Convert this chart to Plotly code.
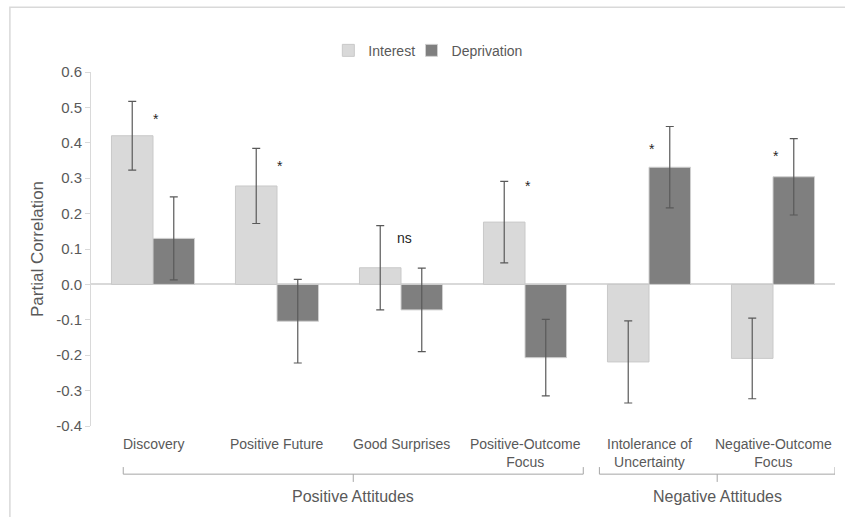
import plotly.graph_objects as go

categories = ["Discovery", "Positive Future", "Good Surprises", "Positive-Outcome<br>Focus",
              "Intolerance of<br>Uncertainty", "Negative-Outcome<br>Focus"]
interest = [0.42, 0.278, 0.047, 0.176, -0.219, -0.209]
interest_err = [0.097, 0.106, 0.119, 0.115, 0.116, 0.114]
deprivation = [0.13, -0.104, -0.072, -0.207, 0.331, 0.304]
deprivation_err = [0.117, 0.118, 0.118, 0.108, 0.115, 0.108]
sig_labels = ["*", "*", "ns", "*", "*", "*"]
sig_y = [0.474, 0.341, 0.132, 0.285, 0.389, 0.367]
groups = ["Positive Attitudes", "Negative Attitudes"]
group_span = [(-0.24, 3.47), (3.6, 5.5)]
yticks = [0.6, 0.5, 0.4, 0.3, 0.2, 0.1, 0.0, -0.1, -0.2, -0.3, -0.4]

FONT = "Liberation Sans, Arial, sans-serif"
TXT = "#595959"
idx = list(range(len(categories)))

fig = go.Figure()
fig.add_trace(go.Bar(
    x=idx, y=interest, name="Interest", legend="legend",
    marker=dict(color="#d9d9d9", line=dict(color="#c9c9c9", width=1)),
    error_y=dict(type="data", array=interest_err, color="#595959", thickness=1.2, width=4),
))
fig.add_trace(go.Bar(
    x=idx, y=deprivation, name="Deprivation", legend="legend2",
    marker=dict(color="#7f7f7f", line=dict(color="#d0d0d0", width=1)),
    error_y=dict(type="data", array=deprivation_err, color="#595959", thickness=1.2, width=4),
))

annotations = []
for i, (lab, yy) in enumerate(zip(sig_labels, sig_y)):
    annotations.append(dict(x=i, y=yy, xref="x", yref="y", text=lab, showarrow=False,
                            xshift=3, yshift=-2 if lab == "*" else 0,
                            font=dict(family=FONT, size=14, color="#262626")))
for i, c in enumerate(categories):
    annotations.append(dict(x=i, y=-0.022, xref="x", yref="paper", text=c, showarrow=False,
                            yanchor="top", font=dict(family=FONT, size=14, color=TXT)))
shapes = []
for g, (a, b) in zip(groups, group_span):
    mid = (a + b) / 2
    shapes.append(dict(type="path", xref="x", yref="paper",
                       path=f"M {a},-0.116 L {a},-0.136 L {b},-0.136 L {b},-0.116",
                       line=dict(color="#a6a6a6", width=1)))
    shapes.append(dict(type="line", xref="x", yref="paper", x0=mid, x1=mid, y0=-0.136, y1=-0.158,
                       line=dict(color="#a6a6a6", width=1)))
    annotations.append(dict(x=mid, y=-0.2, xref="x", yref="paper", text=g, showarrow=False,
                            yanchor="middle", font=dict(family=FONT, size=16, color=TXT)))
# outer chart border
shapes.append(dict(type="rect", xref="paper", yref="paper", x0=-0.109, x1=1.05, y0=-0.3, y1=1.183,
                   line=dict(color="#d9d9d9", width=1.5)))

legend_common = dict(orientation="h", y=1.06, xanchor="left", yanchor="middle",
                     font=dict(family=FONT, size=14, color=TXT), itemwidth=30,
                     bgcolor="rgba(0,0,0,0)")

fig.update_layout(
    width=845, height=517,
    margin=dict(l=91, r=10, t=72, b=91),
    paper_bgcolor="white", plot_bgcolor="white",
    barmode="group", bargap=0.33, bargroupgap=0,
    font=dict(family=FONT, size=14, color=TXT),
    showlegend=True,
    legend=dict(x=0.319, **legend_common),
    legend2=dict(x=0.4308, **legend_common),
    xaxis=dict(range=[-0.5, 5.5], showticklabels=False, showgrid=False, zeroline=False,
               showline=False, ticks=""),
    yaxis=dict(range=[-0.4, 0.6], tickvals=yticks, ticktext=[f"{v:.1f}" for v in yticks],
               showgrid=False, zeroline=True, zerolinecolor="#d9d9d9", zerolinewidth=1.5,
               showline=True, linecolor="#d9d9d9", linewidth=1,
               ticks="outside", ticklen=5, tickcolor="#d9d9d9", automargin=False,
               tickfont=dict(family=FONT, size=15, color=TXT),
               title=dict(text="Partial Correlation", font=dict(family=FONT, size=17, color=TXT),
                          standoff=8)),
    annotations=annotations, shapes=shapes,
)
fig.write_html("out.html", config={"displayModeBar": False},
               post_script="document.body.style.margin='0';document.body.style.overflow='hidden';")
